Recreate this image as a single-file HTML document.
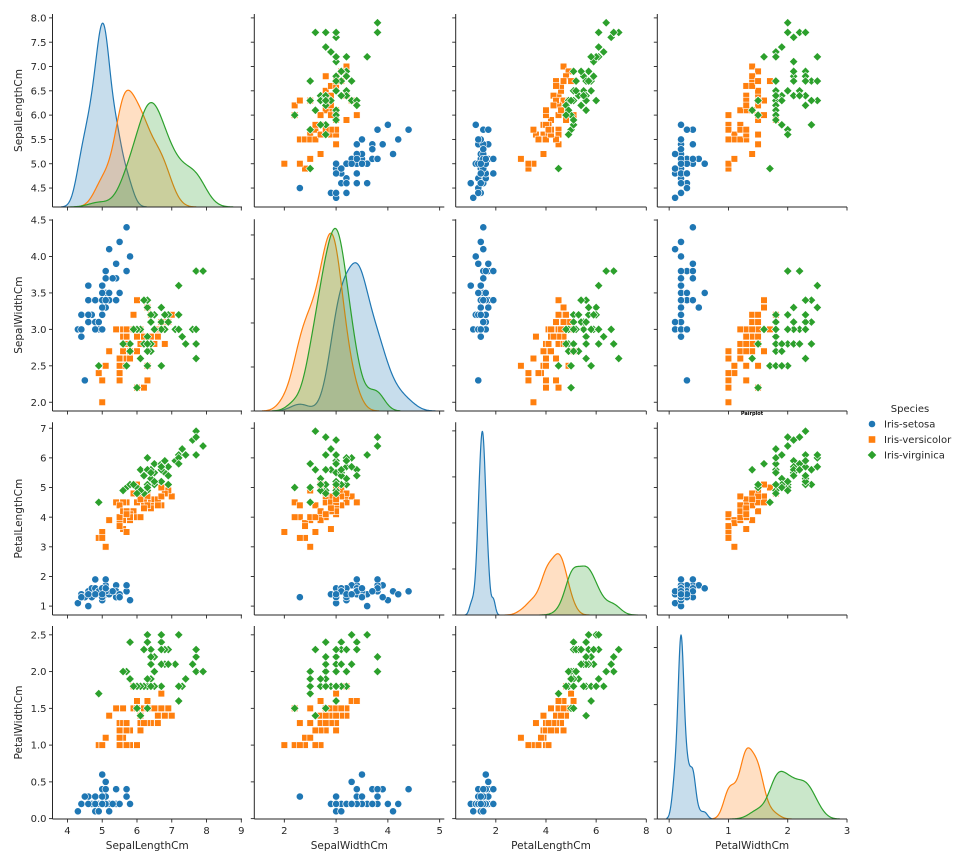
<!DOCTYPE html>
<html><head><meta charset="utf-8">
<style>
html,body{margin:0;padding:0;background:#fff;}
svg{display:block;font-family:"DejaVu Sans","Liberation Sans",sans-serif;}
</style></head>
<body>
<svg id="chart" width="967" height="864" viewBox="0 0 967 864" xmlns="http://www.w3.org/2000/svg"></svg>
<script>
const features = ["SepalLengthCm","SepalWidthCm","PetalLengthCm","PetalWidthCm"];
const speciesNames = ["Iris-setosa","Iris-versicolor","Iris-virginica"];
const sepalLength = [5.1,4.9,4.7,4.6,5.0,5.4,4.6,5.0,4.4,4.9,5.4,4.8,4.8,4.3,5.8,5.7,5.4,5.1,5.7,5.1,5.4,5.1,4.6,5.1,4.8,5.0,5.0,5.2,5.2,4.7,4.8,5.4,5.2,5.5,4.9,5.0,5.5,4.9,4.4,5.1,5.0,4.5,4.4,5.0,5.1,4.8,5.1,4.6,5.3,5.0,
7.0,6.4,6.9,5.5,6.5,5.7,6.3,4.9,6.6,5.2,5.0,5.9,6.0,6.1,5.6,6.7,5.6,5.8,6.2,5.6,5.9,6.1,6.3,6.1,6.4,6.6,6.8,6.7,6.0,5.7,5.5,5.5,5.8,6.0,5.4,6.0,6.7,6.3,5.6,5.5,5.5,6.1,5.8,5.0,5.6,5.7,5.7,6.2,5.1,5.7,
6.3,5.8,7.1,6.3,6.5,7.6,4.9,7.3,6.7,7.2,6.5,6.4,6.8,5.7,5.8,6.4,6.5,7.7,7.7,6.0,6.9,5.6,7.7,6.3,6.7,7.2,6.2,6.1,6.4,7.2,7.4,7.9,6.4,6.3,6.1,7.7,6.3,6.4,6.0,6.9,6.7,6.9,5.8,6.8,6.7,6.7,6.3,6.5,6.2,5.9];
const sepalWidth = [3.5,3.0,3.2,3.1,3.6,3.9,3.4,3.4,2.9,3.1,3.7,3.4,3.0,3.0,4.0,4.4,3.9,3.5,3.8,3.8,3.4,3.7,3.6,3.3,3.4,3.0,3.4,3.5,3.4,3.2,3.1,3.4,4.1,4.2,3.1,3.2,3.5,3.1,3.0,3.4,3.5,2.3,3.2,3.5,3.8,3.0,3.8,3.2,3.7,3.3,
3.2,3.2,3.1,2.3,2.8,2.8,3.3,2.4,2.9,2.7,2.0,3.0,2.2,2.9,2.9,3.1,3.0,2.7,2.2,2.5,3.2,2.8,2.5,2.8,2.9,3.0,2.8,3.0,2.9,2.6,2.4,2.4,2.7,2.7,3.0,3.4,3.1,2.3,3.0,2.5,2.6,3.0,2.6,2.3,2.7,3.0,2.9,2.9,2.5,2.8,
3.3,2.7,3.0,2.9,3.0,3.0,2.5,2.9,2.5,3.6,3.2,2.7,3.0,2.5,2.8,3.2,3.0,3.8,2.6,2.2,3.2,2.8,2.8,2.7,3.3,3.2,2.8,3.0,2.8,3.0,2.8,3.8,2.8,2.8,2.6,3.0,3.4,3.1,3.0,3.1,3.1,3.1,2.7,3.2,3.3,3.0,2.5,3.0,3.4,3.0];
const petalLength = [1.4,1.4,1.3,1.5,1.4,1.7,1.4,1.5,1.4,1.5,1.5,1.6,1.4,1.1,1.2,1.5,1.3,1.4,1.7,1.5,1.7,1.5,1.0,1.7,1.9,1.6,1.6,1.5,1.4,1.6,1.6,1.5,1.5,1.4,1.5,1.2,1.3,1.5,1.3,1.5,1.3,1.3,1.3,1.6,1.9,1.4,1.6,1.4,1.5,1.4,
4.7,4.5,4.9,4.0,4.6,4.5,4.7,3.3,4.6,3.9,3.5,4.2,4.0,4.7,3.6,4.4,4.5,4.1,4.5,3.9,4.8,4.0,4.9,4.7,4.3,4.4,4.8,5.0,4.5,3.5,3.8,3.7,3.9,5.1,4.5,4.5,4.7,4.4,4.1,4.0,4.4,4.6,4.0,3.3,4.2,4.2,4.2,4.3,3.0,4.1,
6.0,5.1,5.9,5.6,5.8,6.6,4.5,6.3,5.8,6.1,5.1,5.3,5.5,5.0,5.1,5.3,5.5,6.7,6.9,5.0,5.7,4.9,6.7,4.9,5.7,6.0,4.8,4.9,5.6,5.8,6.1,6.4,5.6,5.1,5.6,6.1,5.6,5.5,4.8,5.4,5.6,5.1,5.1,5.9,5.7,5.2,5.0,5.2,5.4,5.1];
const petalWidth = [0.2,0.2,0.2,0.2,0.2,0.4,0.3,0.2,0.2,0.1,0.2,0.2,0.1,0.1,0.2,0.4,0.4,0.3,0.3,0.3,0.2,0.4,0.2,0.5,0.2,0.2,0.4,0.2,0.2,0.2,0.2,0.4,0.1,0.2,0.1,0.2,0.2,0.1,0.2,0.2,0.3,0.3,0.2,0.6,0.4,0.3,0.2,0.2,0.2,0.2,
1.4,1.5,1.5,1.3,1.5,1.3,1.6,1.0,1.3,1.4,1.0,1.5,1.0,1.4,1.3,1.4,1.5,1.0,1.5,1.1,1.8,1.3,1.5,1.2,1.3,1.4,1.4,1.7,1.5,1.0,1.1,1.0,1.2,1.6,1.5,1.6,1.5,1.3,1.3,1.3,1.2,1.4,1.2,1.0,1.3,1.2,1.3,1.3,1.1,1.3,
2.5,1.9,2.1,1.8,2.2,2.1,1.7,1.8,1.8,2.5,2.0,1.9,2.1,2.0,2.4,2.3,1.8,2.2,2.3,1.5,2.3,2.0,2.0,1.8,2.1,1.8,1.8,1.8,2.1,1.6,1.9,2.0,2.2,1.5,1.4,2.3,2.4,1.8,1.8,2.1,2.4,2.3,1.9,2.3,2.5,2.3,1.9,2.0,2.3,1.8];
const species = [];
for (let i = 0; i < 150; i++) species.push(Math.floor(i / 50));
const colTicks = [[4,5,6,7,8,9],[2,3,4,5],[2,4,6,8],[0,1,2,3]];
const rowTicks = [[4.5,5.0,5.5,6.0,6.5,7.0,7.5,8.0],[2.0,2.5,3.0,3.5,4.0,4.5],[1,2,3,4,5,6,7],[0.0,0.5,1.0,1.5,2.0,2.5]];
const rowTickLabels = [["4.5","5.0","5.5","6.0","6.5","7.0","7.5","8.0"],["2.0","2.5","3.0","3.5","4.0","4.5"],["1","2","3","4","5","6","7"],["0.0","0.5","1.0","1.5","2.0","2.5"]];

// layout (pixels)
const colPx = [[52.5,242],[254.3,444.3],[455.7,646.3],[657.3,847]];
const colLim = [[3.57,9.02],[1.42,5.09],[0.40,8.0],[-0.2,3.0]];
const rowPx = [[207,14],[411,219.3],[615,422.3],[819,626]];
const rowLim = [[4.11,8.08],[1.88,4.51],[0.70,7.2],[-0.005,2.62]];
const colors = ["#1f77b4","#ff7f0e","#2ca02c"];
const data = [sepalLength, sepalWidth, petalLength, petalWidth];
const svg = document.getElementById("chart");
const NS = "http://www.w3.org/2000/svg";
const ink = "#262626";
function mk(tag, attrs, parent) {
  const e = document.createElementNS(NS, tag);
  for (const k in attrs) e.setAttribute(k, attrs[k]);
  (parent || svg).appendChild(e);
  return e;
}
function xScale(c, v) { const [a,b]=colLim[c], [p,q]=colPx[c]; return p + (v-a)/(b-a)*(q-p); }
function yScale(r, v) { const [a,b]=rowLim[r], [p,q]=rowPx[r]; return p + (v-a)/(b-a)*(q-p); }

function kde(vals) {
  const n = vals.length;
  const mean = vals.reduce((s,v)=>s+v,0)/n;
  const sd = Math.sqrt(vals.reduce((s,v)=>s+(v-mean)*(v-mean),0)/(n-1));
  const bw = sd * Math.pow(n, -0.2);
  const lo = Math.min(...vals) - 3*bw, hi = Math.max(...vals) + 3*bw;
  const xs = [], ys = [];
  for (let i = 0; i < 200; i++) {
    const x = lo + (hi-lo)*i/199;
    let s = 0;
    for (const v of vals) { const z=(x-v)/bw; s += Math.exp(-0.5*z*z); }
    xs.push(x); ys.push(s/(n*bw*Math.sqrt(2*Math.PI))/3);
  }
  return {xs, ys};
}
function niceStep(max) {
  const raw = max/5;
  const p = Math.pow(10, Math.floor(Math.log10(raw)));
  for (const m of [1,2,2.5,5,10]) if (m*p >= raw) return m*p;
  return 10*p;
}

for (let r = 0; r < 4; r++) {
  for (let c = 0; c < 4; c++) {
    const g = mk("g", {});
    
    
    const [x0,x1] = colPx[c], [yb,yt] = rowPx[r];
    // x ticks
    colTicks[c].forEach(t => {
      const x = xScale(c,t);
      mk("line", {x1:x,x2:x,y1:yb,y2:yb+3.5,stroke:ink,"stroke-width":0.9}, g);
      if (r === 3) {
        const tx = mk("text", {x:x,y:yb+15,"font-size":10,"text-anchor":"middle",fill:ink}, g);
        tx.textContent = t;
        
        
      }
    });
    if (r === c) {
      const curves = [0,1,2].map(s => kde(data[c].slice(s*50, s*50+50)));
      const dmax = Math.max(...curves.map(k => Math.max(...k.ys))) * 1.05;
      const dy = v => yb - v/dmax*(yb-yt);
      if (r !== 0) {
        const st = niceStep(dmax);
        for (let t = 0; t <= dmax + 1e-9; t += st)
          mk("line", {x1:x0-3.5,x2:x0,y1:dy(t),y2:dy(t),stroke:ink,"stroke-width":0.9}, g);
      }
      curves.forEach((k, s) => {
        let d = "", pts = [];
        k.xs.forEach((x,i) => pts.push(xScale(c,x).toFixed(2)+","+dy(k.ys[i]).toFixed(2)));
        d = "M" + xScale(c,k.xs[0]).toFixed(2) + "," + yb + " L" + pts.join(" L") + " L" + xScale(c,k.xs[199]).toFixed(2) + "," + yb + " Z";
        const f = mk("path", {d:d, fill:colors[s], "fill-opacity":0.25, stroke:"none"}, g);
        
        
        const l = mk("path", {d:"M"+pts.join(" L"), fill:"none", stroke:colors[s], "stroke-width":1.2}, g);
        
        
      });
    } else {
      for (let i = 0; i < 150; i++) {
        const s = species[i];
        const px = xScale(c, data[c][i]), py = yScale(r, data[r][i]);
        let m;
        if (s === 0) m = mk("circle", {cx:px, cy:py, r:3.6, fill:colors[0], stroke:"#fff", "stroke-width":0.6}, g);
        else if (s === 1) m = mk("rect", {x:px-3.3, y:py-3.3, width:6.6, height:6.6, fill:colors[1], stroke:"#fff", "stroke-width":0.6}, g);
        else m = mk("path", {d:`M${px},${py-4.3} L${px+4.3},${py} L${px},${py+4.3} L${px-4.3},${py} Z`, fill:colors[2], stroke:"#fff", "stroke-width":0.6}, g);
        
        
      }
    }
    if (r !== c || r === 0) {
      rowTicks[r].forEach((t, k) => {
        const y = yScale(r,t);
        mk("line", {x1:x0-3.5,x2:x0,y1:y,y2:y,stroke:ink,"stroke-width":0.9}, g);
        if (c === 0) {
          const tx = mk("text", {x:x0-6,y:y+3.6,"font-size":10,"text-anchor":"end",fill:ink}, g);
          tx.textContent = rowTickLabels[r][k];
          
          
        }
      });
    }
    mk("line", {x1:x0,x2:x0,y1:yb,y2:yt,stroke:ink,"stroke-width":1}, g);
    mk("line", {x1:x0,x2:x1,y1:yb,y2:yb,stroke:ink,"stroke-width":1}, g);
  }
}
// axis titles
features.forEach((f, i) => {
  const xt = mk("text", {x:(colPx[i][0]+colPx[i][1])/2, y:849, "font-size":10.5, "text-anchor":"middle", fill:ink});
  xt.textContent = f;
  
  
  const cy = (rowPx[i][0]+rowPx[i][1])/2;
  const yt = mk("text", {x:0, y:0, "font-size":10.5, "text-anchor":"middle", fill:ink, transform:`translate(22,${cy}) rotate(-90)`});
  yt.textContent = f;
  
  
});
// tiny title
const tt = mk("text", {x:752, y:415, "font-size":5, "font-weight":"bold", "text-anchor":"middle", fill:"#000"});
tt.textContent = "Pairplot";


// legend
const lg = mk("g", {});


const lt = mk("text", {x:910, y:412, "font-size":10, "text-anchor":"middle", fill:ink}, lg);
lt.textContent = "Species";


speciesNames.forEach((n, s) => {
  const y = 424 + s*15.5;
  let m;
  if (s === 0) m = mk("circle", {cx:872, cy:y, r:3.6, fill:colors[0], stroke:"#fff", "stroke-width":0.6}, lg);
  else if (s === 1) m = mk("rect", {x:868.7, y:y-3.3, width:6.6, height:6.6, fill:colors[1]}, lg);
  else m = mk("path", {d:`M872,${y-4.3} L876.3,${y} L872,${y+4.3} L867.7,${y} Z`, fill:colors[2]}, lg);
  
  
  const t = mk("text", {x:884, y:y+3.6, "font-size":10, fill:ink}, lg);
  t.textContent = n;
  
  
});
</script>
</body></html>
